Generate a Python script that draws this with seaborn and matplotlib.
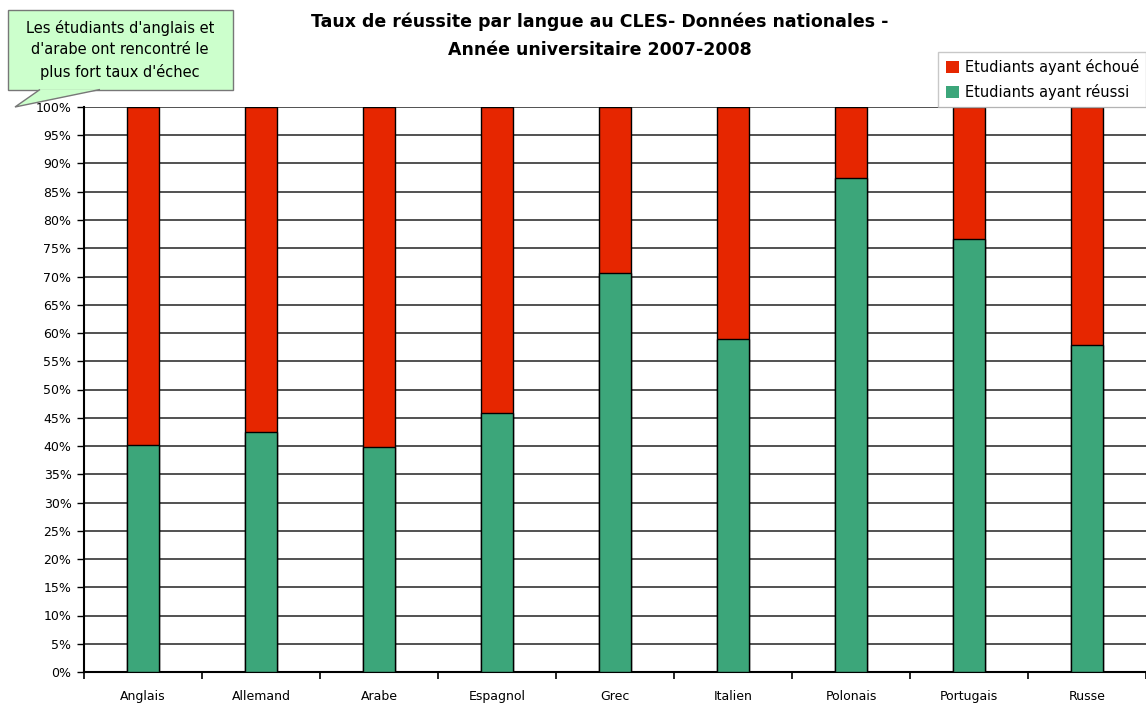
import pandas as pd
import matplotlib.pyplot as plt
import seaborn as sns
import numpy as np
from matplotlib.patches import FancyBboxPatch, Polygon, Patch

# Values (share of students who passed, in %)
langues = ["Anglais", "Allemand", "Arabe", "Espagnol", "Grec",
           "Italien", "Polonais", "Portugais", "Russe"]
reussi = [40.2, 42.4, 39.9, 45.8, 70.6, 58.9, 87.4, 76.6, 57.8]
echoue = [100 - v for v in reussi]

data = pd.DataFrame({"Langue": langues, "Reussi": reussi, "Echoue": echoue})
data["Total"] = data["Reussi"] + data["Echoue"]

red = "#e62600"
green = "#3ca67a"

sns.set_style("white")
plt.rcParams["font.family"] = ["DejaVu Sans"]
plt.rcParams["text.color"] = "black"
plt.rcParams["xtick.color"] = "black"
plt.rcParams["ytick.color"] = "black"

fig = plt.figure(figsize=(11.46, 7.06), dpi=100)
ax = fig.add_axes([84 / 1146, 1 - 672 / 706, (1146 - 84) / 1146, (672 - 107) / 706])

# stacked bars: full height in red, passed share in green on top of it
sns.barplot(data=data, x="Langue", y="Total", color=red, width=0.27,
            edgecolor="black", linewidth=1, saturation=1, ax=ax, zorder=3)
sns.barplot(data=data, x="Langue", y="Reussi", color=green, width=0.27,
            edgecolor="black", linewidth=1, saturation=1, ax=ax, zorder=4)

ax.set_xlim(-0.5, len(langues) - 0.5)
ax.set_ylim(0, 100)
ax.set_yticks(np.arange(0, 101, 5))
ax.set_yticklabels([f"{v}%" for v in range(0, 101, 5)], fontsize=9)
ax.yaxis.grid(True, color="#333333", linewidth=1.2, zorder=0)
ax.set_axisbelow(True)
ax.tick_params(axis="y", left=True, length=5, width=1, color="black", pad=4)

ax.set_xticks(range(len(langues)))
ax.set_xticklabels(langues, fontsize=9)
ax.tick_params(axis="x", which="major", length=0, pad=13)
ax.set_xticks(np.arange(-0.5, len(langues), 1), minor=True)
ax.tick_params(axis="x", which="minor", bottom=True, length=5, width=1.2, color="black")
ax.set_xlabel("")
ax.set_ylabel("")

for side in ["top", "right"]:
    ax.spines[side].set_visible(False)
for side in ["left", "bottom"]:
    ax.spines[side].set_color("black")
    ax.spines[side].set_linewidth(1.5)

fig.text(600 / 1146, 1 - 22 / 706, "Taux de réussite par langue au CLES- Données nationales -",
         ha="center", va="center", fontsize=12.5, fontweight="bold")
fig.text(600 / 1146, 1 - 50 / 706, "Année universitaire 2007-2008",
         ha="center", va="center", fontsize=12.5, fontweight="bold")

handles = [Patch(facecolor=red, edgecolor="none"), Patch(facecolor=green, edgecolor="none")]
leg = fig.legend(handles, ["Etudiants ayant échoué", "Etudiants ayant réussi"],
                 loc="upper right", bbox_to_anchor=(1.0, 1 - 52 / 706), fontsize=10.5,
                 frameon=True, fancybox=False, handlelength=0.9, handleheight=0.9,
                 handletextpad=0.4, borderpad=0.5, labelspacing=0.6, borderaxespad=0)
leg.get_frame().set_edgecolor("#bbbbbb")
leg.get_frame().set_linewidth(1)
leg.set_zorder(10)

# callout box with pointer
W, H = 1146, 706
box = FancyBboxPatch((8 / W, 1 - 90 / H), 225 / W, 80 / H, boxstyle="square,pad=0",
                     transform=fig.transFigure, facecolor="#ccffcc", edgecolor="#777777",
                     linewidth=1, zorder=5)
fig.patches.append(box)
tail = Polygon([(40 / W, 1 - 89.5 / H), (15 / W, 1 - 107 / H), (100 / W, 1 - 89.5 / H)],
               closed=False, transform=fig.transFigure, facecolor="#ccffcc",
               edgecolor="#777777", linewidth=1, zorder=6)
fig.patches.append(tail)
fig.text(120 / W, 1 - 50 / H, "Les étudiants d'anglais et\nd'arabe ont rencontré le\nplus fort taux d'échec",
         ha="center", va="center", fontsize=10.5, linespacing=1.55, zorder=7)

plt.savefig("out.png", dpi=100)
plt.close()
